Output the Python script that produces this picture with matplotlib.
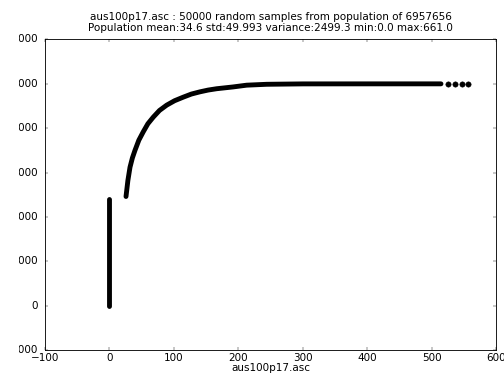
import numpy as np
import matplotlib
matplotlib.use("Agg")
import matplotlib.pyplot as plt
from matplotlib.transforms import Bbox, TransformedBbox

plt.style.use('classic')

# valeurs (echantillons tries -> rang cumule)
zero_vals = [0, 0]
zero_rank = [0, 24000]

curve_vals = [25.6, 28.5, 31.8, 35.5, 39.5, 45.5, 52.4, 59.5, 67.9, 77.5, 88.7, 101, 114.4, 127, 140.3,
              153, 166.2, 191.5, 212.7, 243.7, 300, 400, 514]
curve_rank = [24600, 28200, 31200, 33300, 35000, 37300, 39200, 41000, 42500, 44000, 45200, 46200, 47000,
              47700, 48200, 48600, 48900, 49300, 49700, 49900, 49990, 49998, 50000]

tail_vals = [525, 536, 547, 556]
tail_rank = [50000, 50000, 50000, 50000]

yticks = [-10000, 0, 10000, 20000, 30000, 40000, 50000, 60000]
xticks = [-100, 0, 100, 200, 300, 400, 500, 600]

titre = ("aus100p17.asc : 50000 random samples from population of 6957656\n"
         "Population mean:34.6 std:49.993 variance:2499.3 min:0.0 max:661.0")

fig = plt.figure(figsize=(504/62.5, 375/62.5), dpi=62.5)
fig.subplots_adjust(left=0.0893, right=0.985, bottom=0.0667, top=0.8947)
ax = fig.add_subplot(111)

ms = 6.2
lw = 5.6
ax.plot(zero_vals, zero_rank, 'k-', lw=lw, solid_capstyle='round')
ax.plot(curve_vals, curve_rank, 'k-', lw=lw, solid_capstyle='round', solid_joinstyle='round')
ax.plot(tail_vals, tail_rank, 'ko', ms=ms)

ax.set_xlim(-100, 600)
ax.set_ylim(-10000, 60000)
ax.set_xticks(xticks)
ax.set_yticks(yticks)
ax.tick_params(labelsize=12)
ax.tick_params(axis='y', pad=8)
ax.set_xlabel("aus100p17.asc", fontsize=12, labelpad=0)
ax.set_title(titre, fontsize=12, pad=1.5, y=1.022)

# l'image d'origine est rognee a gauche
clip = TransformedBbox(Bbox.from_extents(19/504, 0, 1, 1), fig.transFigure)
for t in ax.yaxis.get_major_ticks():
    t.label1.set_clip_box(clip)
    t.label1.set_clip_on(True)

fig.savefig("out.png", dpi=62.5, facecolor='white')
